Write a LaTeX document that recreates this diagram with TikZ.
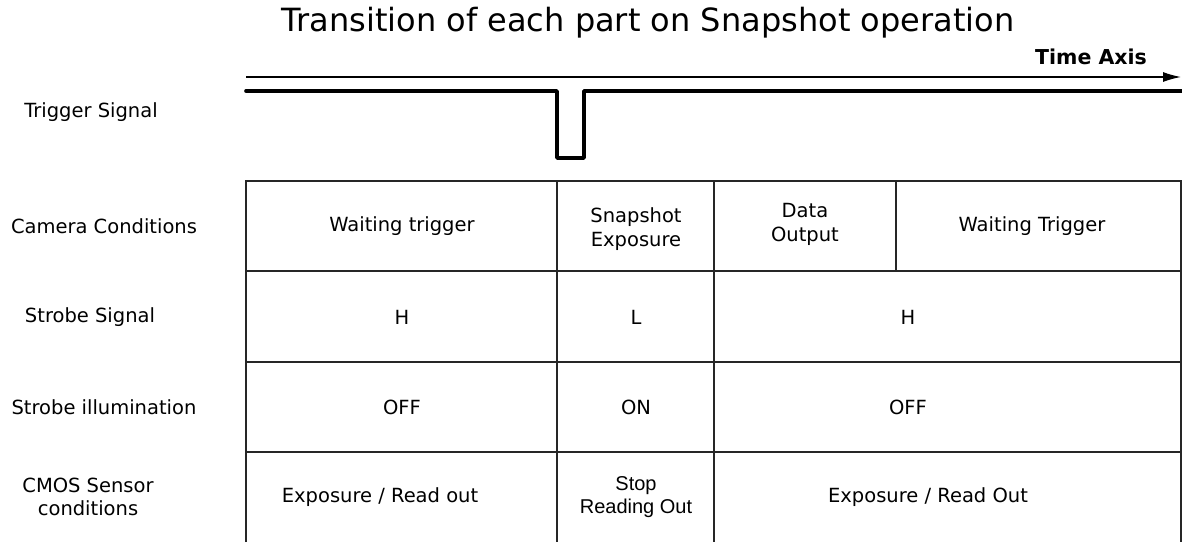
\documentclass[tikz,border=0pt]{standalone}
\usepackage{fontspec}
\setmainfont{DejaVu Sans}
\newfontfamily\arialf{Liberation Sans}
\usetikzlibrary{arrows.meta}
\begin{document}
\begin{tikzpicture}[x=1pt,y=-1pt,
  lbl/.style={font=\fontsize{19.5}{23}\selectfont, align=center, inner sep=0pt},
  cell/.style={font=\fontsize{19.5}{24}\selectfont, align=center, inner sep=0pt},
  grid/.style={line width=1.3pt, draw=black!85},
  sig/.style={line width=3.6pt, line join=round, line cap=round}]
\useasboundingbox (0,0) rectangle (1182,542);
% title
\node[font=\fontsize{32}{36}\selectfont, inner sep=0pt] (title) at (648,23) {Transition of each part on Snapshot operation};
\node[font=\bfseries\fontsize{20.5}{24}\selectfont, inner sep=0pt] (tax) at (1091,57) {Time Axis};
% time axis
\coordinate (a0) at (246,77);
\coordinate (a1) at (1181,77);
\draw[line width=1.3pt, -{Latex[length=18pt,width=10pt]}] (a0) -- (a1);
% trigger signal
\coordinate (s0) at (246,91);
\coordinate (s1) at (557,91);
\coordinate (s2) at (557,158);
\coordinate (s3) at (584,158);
\coordinate (s4) at (584,91);
\coordinate (s5) at (1182,91);
\draw[sig] (s0) -- (s1) -- (s2) -- (s3) -- (s4) -- (s5);
% labels
\node[lbl] (l0) at (91,112) {Trigger Signal};
\node[lbl] (l1) at (104,226) {Camera Conditions};
\node[lbl] (l2) at (90,317) {Strobe Signal};
\node[lbl] (l3) at (104,407) {Strobe illumination};
\node[lbl] (l4) at (88,497) {CMOS Sensor\\conditions};
% table
\draw[grid] (246,542) -- (246,181) -- (1181,181) -- (1181,542);
\draw[grid] (246,271) -- (1181,271);
\draw[grid] (246,362) -- (1181,362);
\draw[grid] (246,452) -- (1181,452);
\draw[grid] (557,181) -- (557,542);
\draw[grid] (714,181) -- (714,542);
\draw[grid] (896,181) -- (896,271);
% row 1
\node[cell] (c11) at (402,226) {Waiting trigger};
\node[cell] (c12) at (636,229) {Snapshot\\Exposure};
\node[cell] (c13) at (805,224) {Data\\Output};
\node[cell] (c14) at (1032,226) {Waiting Trigger};
% row 2
\node[cell] (c21) at (402,317) {H};
\node[cell] (c22) at (636,317) {L};
\node[cell] (c23) at (908,317) {H};
% row 3
\node[cell] (c31) at (402,407) {OFF};
\node[cell] (c32) at (636,407) {ON};
\node[cell] (c33) at (908,407) {OFF};
% row 4
\node[cell] (c41) at (380,497) {Exposure / Read out};
\node[cell, font=\arialf\fontsize{20}{23}\selectfont] (c42) at (636,497) {Stop\\Reading Out};
\node[cell] (c43) at (928,497) {Exposure / Read Out};
\end{tikzpicture}
\end{document}
